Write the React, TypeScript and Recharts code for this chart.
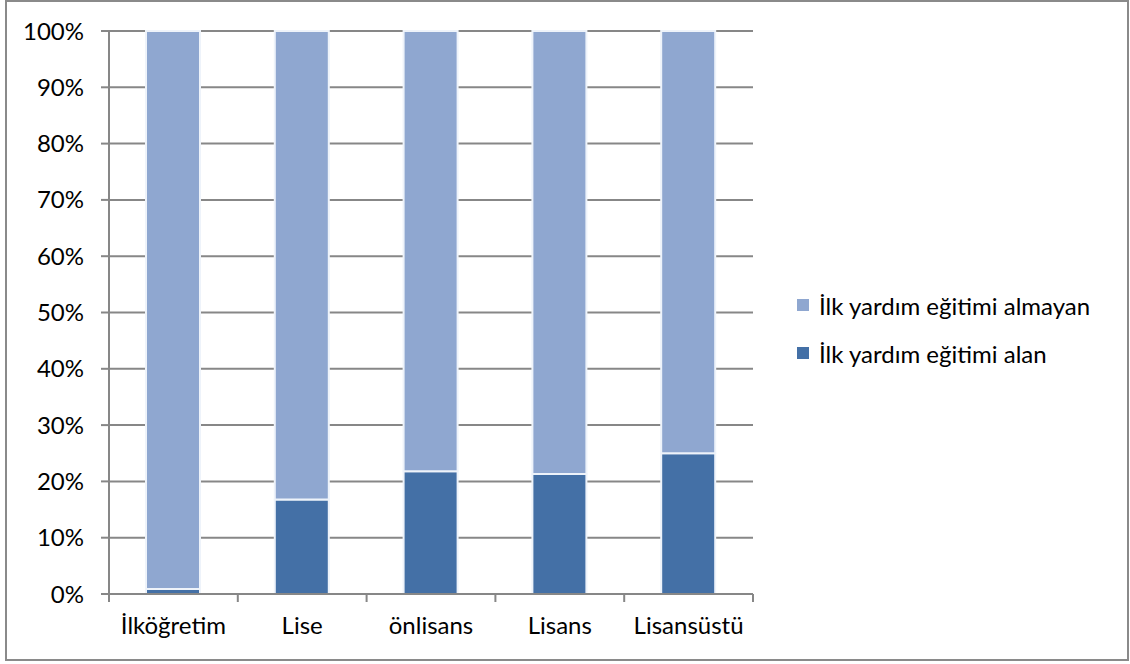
import { Bar, BarChart, CartesianGrid, XAxis, YAxis } from "recharts";

const categories = ["İlköğretim", "Lise", "önlisans", "Lisans", "Lisansüstü"];
const alan = [0.9, 16.8, 21.8, 21.3, 25.0];
const almayan = [99.1, 83.2, 78.2, 78.7, 75.0];
const yTicks = [0, 10, 20, 30, 40, 50, 60, 70, 80, 90, 100];

const seriesNames = {
  alan: "İlk yardım eğitimi alan",
  almayan: "İlk yardım eğitimi almayan"
};

const colors = {
  alan: "#4470a6",
  almayan: "#8fa7d0",
  grid: "#878787",
  text: "#000"
};

const data = categories.map((name, i) => ({
  name,
  alan: alan[i],
  almayan: almayan[i]
}));

const FONT = "Lato, 'Open Sans', sans-serif";
const FONT_SIZE = 24;

function CategoryTick(props: any) {
  const { x, y, payload, index, width } = props;
  const half = width / categories.length / 2;
  const last = index === categories.length - 1;
  return (
    <g>
      <line x1={x - half} y1={y - 8} x2={x - half} y2={y} stroke={colors.grid} strokeWidth={2} />
      {last && <line x1={x + half} y1={y - 8} x2={x + half} y2={y} stroke={colors.grid} strokeWidth={2} />}
      <text x={x} y={y + 32} textAnchor="middle" fill={colors.text} fontSize={FONT_SIZE} fontFamily={FONT}>
        {payload.value}
      </text>
    </g>
  );
}

function ChartLegend() {
  const items = [
    { key: "almayan", label: seriesNames.almayan, color: colors.almayan },
    { key: "alan", label: seriesNames.alan, color: colors.alan }
  ];
  return (
    <div style={{ fontFamily: FONT, fontSize: FONT_SIZE, color: colors.text }}>
      {items.map((it) => (
        <div key={it.key} style={{ display: "flex", alignItems: "center", height: 48 }}>
          <span style={{ width: 12, height: 12, background: it.color, marginRight: 10, display: "inline-block" }} />
          <span>{it.label}</span>
        </div>
      ))}
    </div>
  );
}

export default function App() {
  return (
    <div style={{ position: "absolute", left: 0, top: 0, width: 1130, height: 664, background: "#fff" }}>
      <div
        style={{
          position: "absolute",
          left: 5,
          top: 0,
          width: 1120,
          height: 657,
          border: "2px solid #8a8a8a"
        }}
      />
      <div style={{ position: "absolute", left: 0, top: 0 }}>
        <BarChart
          width={1130}
          height={664}
          data={data}
          margin={{ top: 31, right: 377, left: 49, bottom: 30 }}
          barSize={54}
        >
          <CartesianGrid stroke={colors.grid} strokeWidth={2} vertical={false} />
          <XAxis
            dataKey="name"
            height={40}
            axisLine={{ stroke: colors.grid, strokeWidth: 2 }}
            tickLine={false}
            tick={<CategoryTick />}
            interval={0}
          />
          <YAxis
            width={60}
            domain={[0, 100]}
            ticks={yTicks}
            tickFormatter={(v: number) => `${v}%`}
            axisLine={{ stroke: colors.grid, strokeWidth: 2 }}
            tickLine={{ stroke: colors.grid, strokeWidth: 2 }}
            tickSize={8}
            tickMargin={17}
            tick={{ fill: colors.text, fontSize: FONT_SIZE, fontFamily: FONT }}
          />
          <Bar
            dataKey="alan"
            name={seriesNames.alan}
            stackId="a"
            fill={colors.alan}
            stroke="#eef3fa"
            strokeWidth={2}
            isAnimationActive={false}
          />
          <Bar
            dataKey="almayan"
            name={seriesNames.almayan}
            stackId="a"
            fill={colors.almayan}
            stroke="#eef3fa"
            strokeWidth={2}
            isAnimationActive={false}
          />
        </BarChart>
      </div>
      <div style={{ position: "absolute", left: 797, top: 281 }}>
        <ChartLegend />
      </div>
    </div>
  );
}
